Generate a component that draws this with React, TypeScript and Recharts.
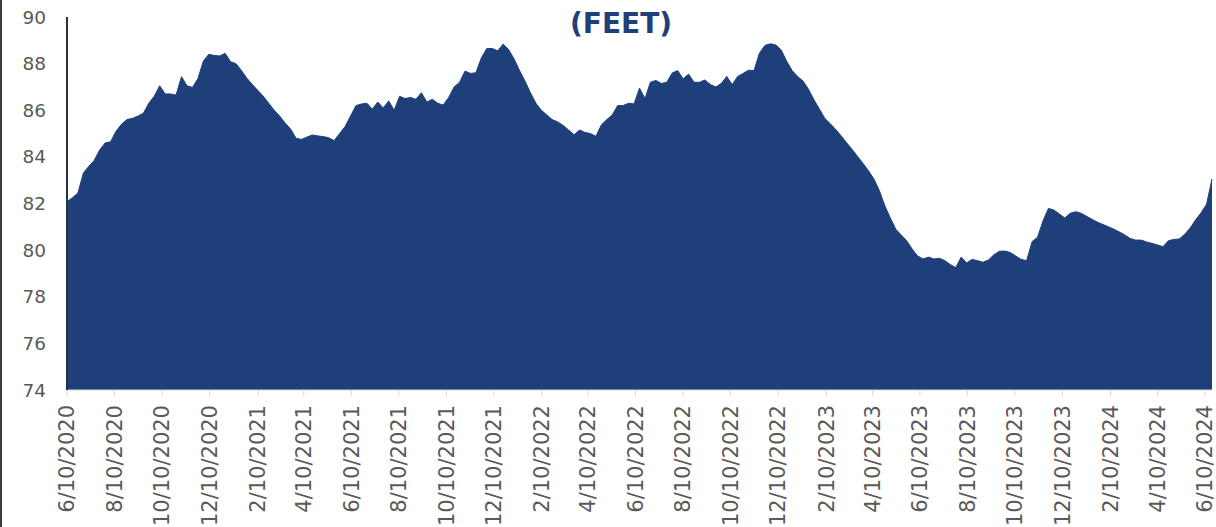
import React from "react";
import { AreaChart, Area, XAxis, YAxis } from "recharts";

// weekly depth readings (feet), first reading on weekStart
const weekStart = "6/10/2020";
const weeklyDepth = [
  82.08, 82.25, 82.45, 83.3, 83.6, 83.85, 84.3, 84.6, 84.65, 85.1,
  85.4, 85.6, 85.65, 85.75, 85.87, 86.3, 86.6, 87.05, 86.7, 86.7,
  86.65, 87.44, 87.05, 86.98, 87.35, 88.1, 88.4, 88.35, 88.33, 88.44,
  88.08, 88.0, 87.7, 87.37, 87.1, 86.85, 86.6, 86.3, 86.0, 85.75,
  85.45, 85.2, 84.8, 84.75, 84.85, 84.94, 84.9, 84.87, 84.82, 84.7,
  85.0, 85.3, 85.75, 86.2, 86.27, 86.3, 86.05, 86.35, 86.1, 86.4,
  86.0, 86.6, 86.5, 86.55, 86.47, 86.75, 86.35, 86.47, 86.3, 86.22,
  86.55, 87.0, 87.2, 87.68, 87.58, 87.61, 88.25, 88.65, 88.65, 88.55,
  88.84, 88.6, 88.2, 87.7, 87.25, 86.75, 86.3, 86.0, 85.8, 85.6,
  85.5, 85.35, 85.15, 84.95, 85.15, 85.05, 85.0, 84.88, 85.37, 85.6,
  85.8, 86.2, 86.2, 86.3, 86.27, 86.95, 86.5, 87.2, 87.28, 87.15,
  87.2, 87.6, 87.7, 87.35, 87.55, 87.2, 87.2, 87.3, 87.1, 87.0,
  87.15, 87.45, 87.1, 87.45, 87.58, 87.72, 87.7, 88.45, 88.78, 88.85,
  88.8, 88.58, 88.1, 87.7, 87.45, 87.25, 86.9, 86.45, 86.05, 85.65,
  85.42, 85.17, 84.9, 84.6, 84.32, 84.02, 83.72, 83.4, 83.05, 82.55,
  81.9, 81.38, 80.9, 80.65, 80.4, 80.05, 79.75, 79.62, 79.7, 79.62,
  79.65, 79.55, 79.38, 79.25, 79.7, 79.45, 79.6, 79.55, 79.48, 79.58,
  79.8, 79.95, 79.96, 79.9, 79.75, 79.6, 79.55, 80.36, 80.55, 81.25,
  81.79, 81.72, 81.55, 81.38, 81.58, 81.65, 81.58, 81.45, 81.32, 81.2,
  81.1, 81.0, 80.9, 80.78, 80.65, 80.5, 80.43, 80.43, 80.35, 80.29,
  80.22, 80.15, 80.4, 80.46, 80.48, 80.68, 80.95, 81.3, 81.6, 81.97, 83.05,
];

const dateLabels = [
  "6/10/2020", "8/10/2020", "10/10/2020", "12/10/2020",
  "2/10/2021", "4/10/2021", "6/10/2021", "8/10/2021", "10/10/2021", "12/10/2021",
  "2/10/2022", "4/10/2022", "6/10/2022", "8/10/2022", "10/10/2022", "12/10/2022",
  "2/10/2023", "4/10/2023", "6/10/2023", "8/10/2023", "10/10/2023", "12/10/2023",
  "2/10/2024", "4/10/2024", "6/10/2024",
];

const depthTicks = [74, 76, 78, 80, 82, 84, 86, 88, 90];

const WEEK = 7 * 24 * 3600 * 1000;
const toTime = (s: string) => {
  const [m, d, y] = s.split("/").map(Number);
  return Date.UTC(y, m - 1, d);
};
const fmtDate = (t: number) => {
  const d = new Date(t);
  return `${d.getUTCMonth() + 1}/${d.getUTCDate()}/${d.getUTCFullYear()}`;
};

const t0 = toTime(weekStart);
const data = weeklyDepth.map((v, i) => ({ t: t0 + i * WEEK, depth: v }));
const tickTimes = dateLabels.map(toTime);

const BLUE = "#1F3F7A";
const FONT = "'DejaVu Sans', sans-serif";

const DateTick = (props: any) => {
  const { x, y, payload } = props;
  return (
    <text
      x={x}
      y={y}
      dy="0.35em"
      transform={`rotate(-90, ${x}, ${y})`}
      textAnchor="end"
      fill="#595959"
      fontSize={21}
      fontFamily={FONT}
    >
      {fmtDate(payload.value)}
    </text>
  );
};

export default function App() {
  return (
    <div
      style={{
        position: "absolute",
        left: 0,
        top: 0,
        width: 1216,
        height: 527,
        background: "#fff",
        overflow: "hidden",
      }}
    >
      <AreaChart
        width={1216}
        height={527}
        data={data}
        margin={{ top: 17, right: 4, left: 0, bottom: 0 }}
      >
        <XAxis
          dataKey="t"
          type="number"
          domain={[data[0].t, data[data.length - 1].t]}
          ticks={tickTimes}
          interval={0}
          height={137}
          axisLine={{ stroke: "#d9d9d9" }}
          tickLine={{ stroke: "#d9d9d9" }}
          tickSize={6}
          tickMargin={9}
          tick={<DateTick />}
        />
        <YAxis
          domain={[74, 90]}
          ticks={depthTicks}
          interval={0}
          width={67}
          axisLine={{ stroke: "#23343f", strokeWidth: 2 }}
          tickLine={false}
          tickMargin={15}
          tick={{ fill: "#595959", fontSize: 18.5, fontFamily: FONT }}
        />
        <Area
          type="linear"
          dataKey="depth"
          stroke={BLUE}
          strokeWidth={1}
          fill={BLUE}
          fillOpacity={1}
          isAnimationActive={false}
        />
      </AreaChart>
      <svg
        width={1216}
        height={527}
        style={{ position: "absolute", left: 0, top: 0, pointerEvents: "none" }}
      >
        <text
          x={621}
          y={33}
          textAnchor="middle"
          fill={BLUE}
          fontSize={28}
          fontWeight="bold"
          fontFamily={FONT}
        >
          (FEET)
        </text>
      </svg>
      <div
        style={{
          position: "absolute",
          left: 0,
          top: 0,
          width: 2,
          height: 527,
          background: "#3a3a3a",
        }}
      />
    </div>
  );
}
